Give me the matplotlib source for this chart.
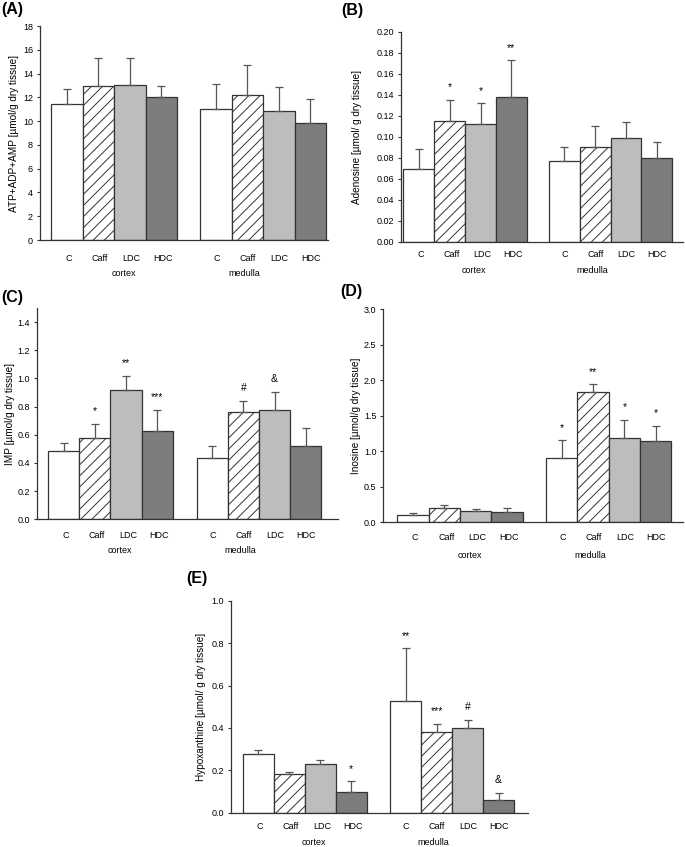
import matplotlib
matplotlib.use("Agg")
import matplotlib.pyplot as plt
import matplotlib.transforms as mtransforms
import numpy as np

plt.rcParams['font.family'] = ['Liberation Sans', 'DejaVu Sans']
plt.rcParams['hatch.linewidth'] = 0.7

groups = ["C", "Caff", "LDC", "HDC"]
regions = ["cortex", "medulla"]

# Panel A: ATP+ADP+AMP
A_cortex = [11.46, 12.99, 13.07, 12.00]
A_cortex_err = [1.22, 2.33, 2.20, 0.99]
A_medulla = [10.99, 12.23, 10.82, 9.80]
A_medulla_err = [2.16, 2.45, 2.03, 2.09]
A_cortex_sig = ["", "", "", ""]
A_medulla_sig = ["", "", "", ""]

# Panel B: Adenosine
B_cortex = [0.0695, 0.1149, 0.1117, 0.1378]
B_cortex_err = [0.0191, 0.0200, 0.0203, 0.0349]
B_medulla = [0.0765, 0.0902, 0.0990, 0.0797]
B_medulla_err = [0.0133, 0.0200, 0.0153, 0.0152]
B_cortex_sig = ["", "*", "*", "**"]
B_medulla_sig = ["", "", "", ""]

# Panel C: IMP
C_cortex = [0.483, 0.576, 0.917, 0.626]
C_cortex_err = [0.062, 0.103, 0.100, 0.153]
C_medulla = [0.436, 0.760, 0.774, 0.521]
C_medulla_err = [0.081, 0.080, 0.131, 0.124]
C_cortex_sig = ["", "*", "**", "***"]
C_medulla_sig = ["", "#", "&", ""]

# Panel D: Inosine
D_cortex = [0.108, 0.206, 0.164, 0.140]
D_cortex_err = [0.023, 0.033, 0.023, 0.057]
D_medulla = [0.904, 1.840, 1.190, 1.143]
D_medulla_err = [0.253, 0.104, 0.257, 0.220]
D_cortex_sig = ["", "", "", ""]
D_medulla_sig = ["*", "**", "*", "*"]

# Panel E: Hypoxanthine
E_cortex = [0.277, 0.183, 0.228, 0.098]
E_cortex_err = [0.021, 0.009, 0.022, 0.050]
E_medulla = [0.527, 0.380, 0.400, 0.061]
E_medulla_err = [0.249, 0.040, 0.039, 0.032]
E_cortex_sig = ["", "", "", "*"]
E_medulla_sig = ["**", "***", "#", "&"]

A_ticks = [0, 2, 4, 6, 8, 10, 12, 14, 16, 18]
B_ticks = [0.00, 0.02, 0.04, 0.06, 0.08, 0.10, 0.12, 0.14, 0.16, 0.18, 0.20]
C_ticks = [0.0, 0.2, 0.4, 0.6, 0.8, 1.0, 1.2, 1.4]
D_ticks = [0.0, 0.5, 1.0, 1.5, 2.0, 2.5, 3.0]
E_ticks = [0.0, 0.2, 0.4, 0.6, 0.8, 1.0]

fills = ["white", "white", "#bdbdbd", "#7d7d7d"]
hatches = [None, "///", None, None]

W, H = 685, 847
fig = plt.figure(figsize=(W / 100, H / 100), dpi=100)


def px_axes(left, top, right, bottom):
    return fig.add_axes([left / W, 1 - bottom / H, (right - left) / W, (bottom - top) / H])


def panel(ax, cortex, cortex_err, medulla, medulla_err, csig, msig, ticks, ylim,
          fmt, ylabel, xlim, med_start, letter, letter_xy, ylab_x, grp_off=-23.5,
          tick_pad=9.5):
    xs_c = np.arange(4) + 0.5
    xs_m = np.arange(4) + med_start + 0.5
    for xs, vals, errs, sigs in [(xs_c, cortex, cortex_err, csig),
                                 (xs_m, medulla, medulla_err, msig)]:
        for i in range(4):
            ax.bar(xs[i], vals[i], width=1.0, color=fills[i], edgecolor="#333333",
                   linewidth=0.9, hatch=hatches[i], zorder=2)
        ax.errorbar(xs, vals, yerr=[np.zeros(4), errs], fmt="none",
                    ecolor="#555555", elinewidth=0.9, capsize=2.6, capthick=0.9,
                    zorder=3)
        for i in range(4):
            if sigs[i]:
                ax.annotate(sigs[i], (xs[i], vals[i] + errs[i]), xytext=(0, 9),
                            textcoords="offset points", ha="center", va="center",
                            fontsize=7.5)
    ax.set_xlim(*xlim)
    ax.set_ylim(*ylim)
    ax.set_yticks(ticks)
    ax.set_yticklabels([fmt.format(t) for t in ticks], fontsize=6.5)
    lab_x = list(xs_c + 0.06) + list(xs_m + 0.02)
    ax.set_xticks(lab_x)
    ax.set_xticklabels(groups * 2, fontsize=6.5)
    ax.tick_params(axis="x", length=0, pad=tick_pad)
    ax.tick_params(axis="y", length=2.5, width=0.8, pad=2.5, color="#333333")
    for s in ["top", "right"]:
        ax.spines[s].set_visible(False)
    for s in ["left", "bottom"]:
        ax.spines[s].set_color("#333333")
        ax.spines[s].set_linewidth(0.9)
    trans = mtransforms.blended_transform_factory(ax.transData, ax.transAxes)
    for xpos, name in [(2.3, regions[0]), (med_start + 1.4, regions[1])]:
        ax.annotate(name, (xpos, 0), xycoords=trans, xytext=(0, grp_off),
                    textcoords="offset points", ha="center", va="center",
                    fontsize=6.5)
    ax.set_ylabel(ylabel, fontsize=7.2)
    ax.yaxis.set_label_coords(ylab_x, 0.5)
    fig.text(letter_xy[0] / W, 1 - letter_xy[1] / H, letter, fontsize=11.5,
             fontweight="bold", ha="left", va="top")


axA = px_axes(40, 26, 328, 240)
panel(axA, A_cortex, A_cortex_err, A_medulla, A_medulla_err, A_cortex_sig, A_medulla_sig,
      A_ticks, (0, 18), "{:d}", "ATP+ADP+AMP [µmol/g dry tissue]",
      (-0.35, 8.79), 4.73, "(A)", (1, 2), -0.073, grp_off=-24, tick_pad=10)

axB = px_axes(401, 31.7, 683, 241.7)
panel(axB, B_cortex, B_cortex_err, B_medulla, B_medulla_err, B_cortex_sig, B_medulla_sig,
      B_ticks, (0, 0.20), "{:.2f}", "Adenosine [µmol/ g dry tissue]",
      (-0.08, 9.07), 4.72, "(B)", (341, 3), -0.139, grp_off=-21, tick_pad=6)

axC = px_axes(36.7, 308, 338, 519.3)
panel(axC, C_cortex, C_cortex_err, C_medulla, C_medulla_err, C_cortex_sig, C_medulla_sig,
      C_ticks, (0, 1.5), "{:.1f}", "IMP [µmol/g dry tissue]",
      (-0.37, 9.31), 4.77, "(C)", (1, 290), -0.072, grp_off=-22.5, tick_pad=8.5)

axD = px_axes(383.3, 309.3, 683, 522.3)
panel(axD, D_cortex, D_cortex_err, D_medulla, D_medulla_err, D_cortex_sig, D_medulla_sig,
      D_ticks, (0, 3.0), "{:.1f}", "Inosine [µmol/g dry tissue]",
      (-0.45, 9.11), 4.74, "(D)", (340, 284), -0.074, grp_off=-24, tick_pad=8)

axE = px_axes(231, 600.7, 528, 812.7)
panel(axE, E_cortex, E_cortex_err, E_medulla, E_medulla_err, E_cortex_sig, E_medulla_sig,
      E_ticks, (0, 1.0), "{:.1f}", "Hypoxanthine [µmol/ g dry tissue]",
      (-0.38, 9.2), 4.75, "(E)", (186, 571), -0.084, grp_off=-21.5, tick_pad=7)

fig.savefig("out.png", dpi=100)
